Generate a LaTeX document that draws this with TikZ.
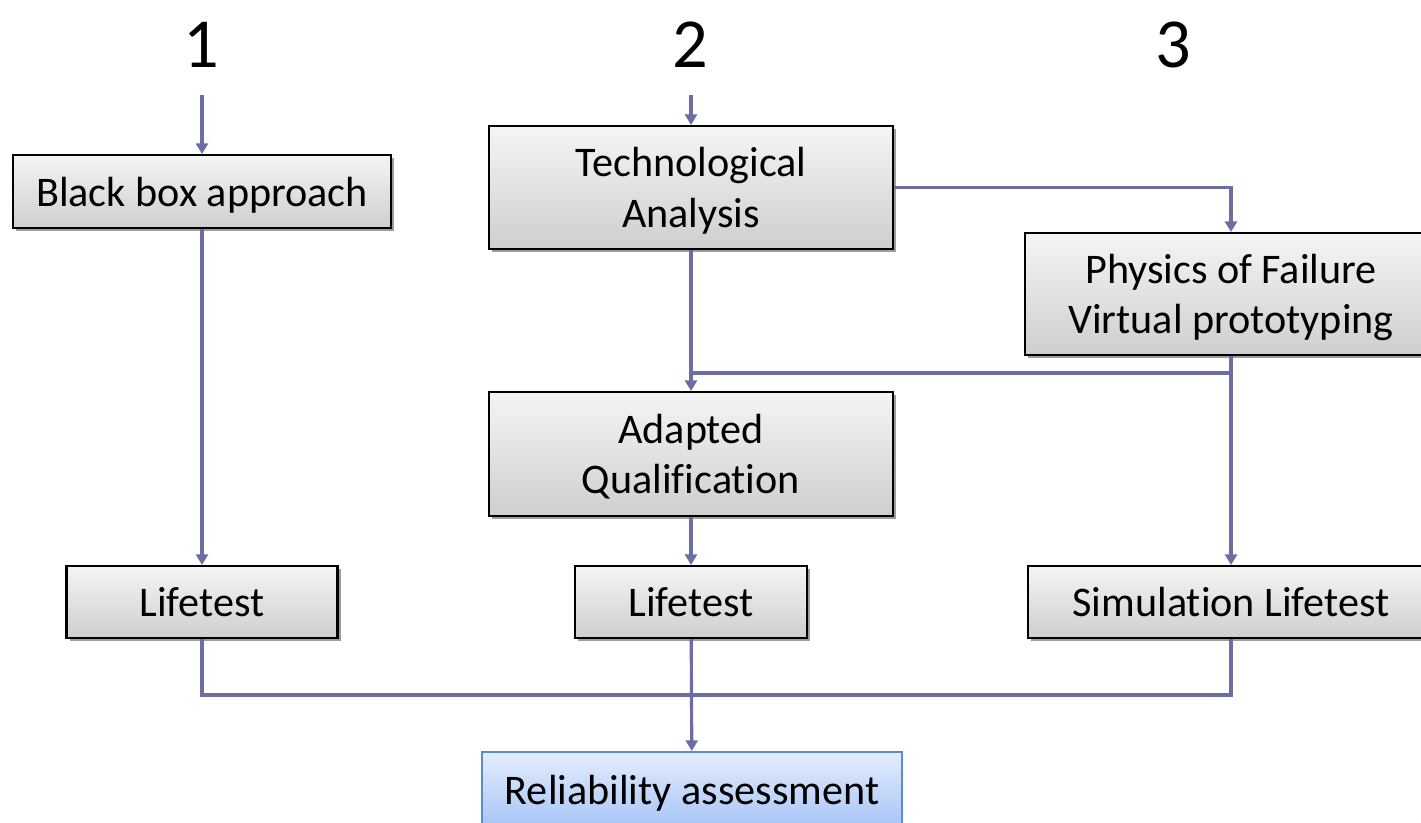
\documentclass[tikz,border=0pt]{standalone}
\usepackage{fontspec}
\setmainfont{Carlito}[Ligatures=NoCommon]
\usetikzlibrary{arrows.meta,shadows}
\definecolor{lienc}{HTML}{6B6DA3}
\definecolor{bleuc}{HTML}{5B8CCC}
\definecolor{bleuhaut}{HTML}{E4EDFD}
\definecolor{bleubas}{HTML}{A6C4F7}
\begin{document}
\begin{tikzpicture}[
    boite/.style = {draw=black, line width=0.6pt, top color=gray!8, bottom color=gray!38,
                    drop shadow={shadow xshift=0.9pt, shadow yshift=-0.9pt, fill=black!55, opacity=0.7},
                    align=center, inner sep=0pt, text depth=0pt, font=\fontsize{12}{14.4}\selectfont},
    finale/.style = {draw=bleuc, line width=0.6pt, top color=bleuhaut, bottom color=bleubas,
                     align=center, inner sep=0pt, text depth=0pt, font=\fontsize{12}{14.4}\selectfont},
    lien/.style = {draw=lienc, line width=0.9pt},
    fleche/.style = {lien, -{Triangle[length=3pt,width=3.4pt]}},
    numero/.style = {inner sep=0pt, font=\fontsize{20}{24}\selectfont}
  ]
  \useasboundingbox (0,0) rectangle (14.21,-8.22);
  \clip (0,0) rectangle (14.21,-8.22);

  % Les numeros
  \node[numero] (n1) at (2.01,-0.445) {1};
  \node[numero] (n2) at (6.90,-0.445) {2};
  \node[numero] (n3) at (11.73,-0.445) {3};
  \coordinate (d1) at (2.02,-0.95);
  \coordinate (d2) at (6.91,-0.95);

  % Les boites
  \node[boite, minimum width=3.78cm, minimum height=0.73cm] (bb) at (2.02,-1.915) {Black box approach};
  \node[boite, minimum width=4.04cm, minimum height=1.23cm] (tech) at (6.91,-1.875) {Technological\\Analysis};
  \node[boite, minimum width=4.12cm, minimum height=1.22cm] (pof) at (12.31,-2.94) {Physics of Failure\\Virtual prototyping};
  \node[boite, minimum width=4.04cm, minimum height=1.24cm] (aq) at (6.91,-4.54) {Adapted\\Qualification};
  \node[boite, minimum width=2.71cm, minimum height=0.72cm] (lt1) at (2.02,-6.02) {Lifetest};
  \node[boite, minimum width=2.32cm, minimum height=0.72cm] (lt2) at (6.91,-6.02) {Lifetest};
  \node[boite, minimum width=4.06cm, minimum height=0.72cm] (slt) at (12.31,-6.02) {Simulation Lifetest};
  \node[finale, minimum width=4.20cm, minimum height=0.76cm] (rel) at (6.92,-7.90) {Reliability assessment};

  % Les liens
  \coordinate (j) at (6.91,-3.73);    % jonction
  \draw[fleche] (d1) -- (bb);
  \draw[fleche] (d2) -- (tech);
  \draw[fleche] (tech.east) -| (pof.north);
  \draw[fleche] (tech) -- (aq);
  \draw[lien] (pof.south) |- (j);
  \draw[fleche] (pof) -- (slt);
  \draw[fleche] (bb) -- (lt1);
  \draw[fleche] (aq) -- (lt2);
  \draw[lien] (lt1.south) -- ++(0,-0.56) -| (slt.south);
  \draw[fleche] (lt2) -- (rel);

\end{tikzpicture}
\end{document}
